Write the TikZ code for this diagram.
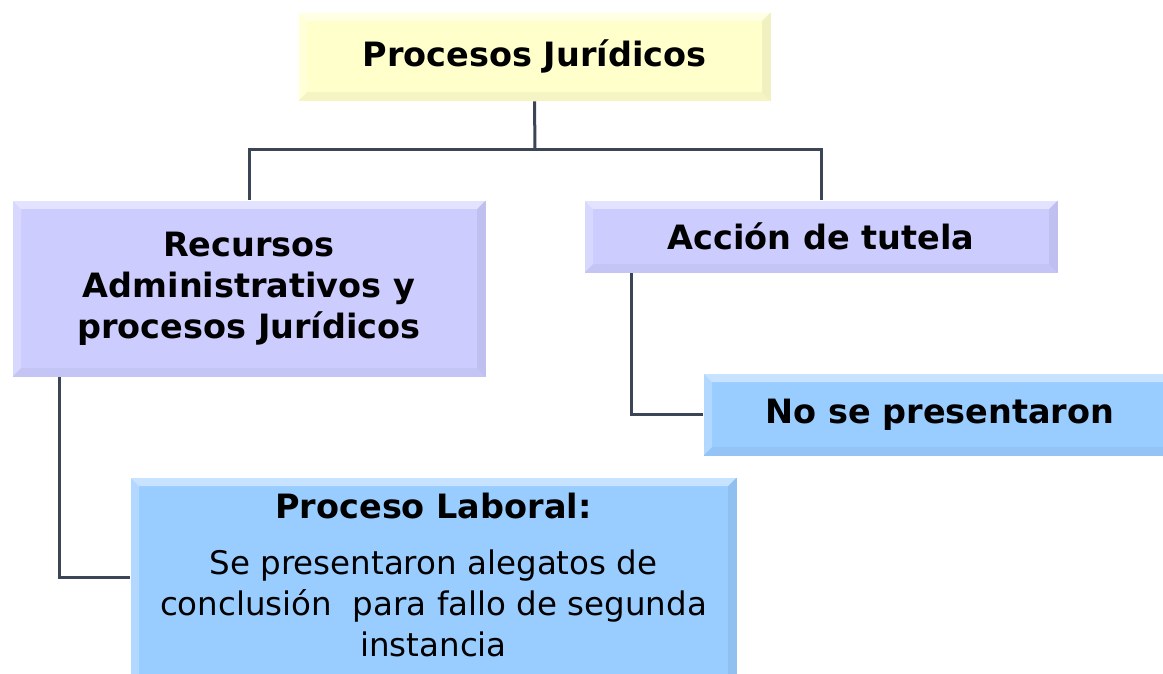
\documentclass[tikz,border=0pt]{standalone}
\usepackage{fontspec}
\setmainfont{DejaVu Sans}
\usetikzlibrary{calc}
\definecolor{yel}{HTML}{FFFFCC}
\definecolor{lav}{HTML}{CCCCFF}
\definecolor{sky}{HTML}{99CCFF}
\definecolor{lin}{HTML}{3B4556}
\newcommand\regtext{\fontsize{32.5}{41}\selectfont\mdseries}
\tikzset{
  bevel/.style={path picture={
    \def\b{9pt}
    \fill[white,opacity=0.45] (path picture bounding box.north west) -- (path picture bounding box.north east) -- ([xshift=-\b,yshift=-\b]path picture bounding box.north east) -- ([xshift=\b,yshift=-\b]path picture bounding box.north west) -- cycle;
    \fill[white,opacity=0.25] (path picture bounding box.north west) -- ([xshift=\b,yshift=-\b]path picture bounding box.north west) -- ([xshift=\b,yshift=\b]path picture bounding box.south west) -- (path picture bounding box.south west) -- cycle;
    \fill[black,opacity=0.06] (path picture bounding box.north east) -- ([xshift=-\b,yshift=-\b]path picture bounding box.north east) -- ([xshift=-\b,yshift=\b]path picture bounding box.south east) -- (path picture bounding box.south east) -- cycle;
    \fill[black,opacity=0.04] (path picture bounding box.south west) -- ([xshift=\b,yshift=\b]path picture bounding box.south west) -- ([xshift=-\b,yshift=\b]path picture bounding box.south east) -- (path picture bounding box.south east) -- cycle;
  }},
  box/.style={rectangle, bevel, draw=white, line width=0.8pt, align=center, inner sep=0pt,
    font=\fontsize{33.5}{41}\selectfont\bfseries, text=black},
  conn/.style={draw=lin, line width=3pt}
}
\begin{document}
\begin{tikzpicture}[x=1pt,y=-1pt]
\useasboundingbox (0,0) rectangle (1163,674);
\fill[white] (0,0) rectangle (1163,674);
\node[box, fill=yel, minimum width=473pt, minimum height=89pt] (top) at (534.5,56.5) {Procesos Jurídicos};
\node[box, fill=lav, minimum width=474pt, minimum height=177pt] (left) at (249,288.5) {Recursos\\Administrativos y\\procesos Jurídicos};
\node[box, fill=lav, minimum width=474pt, minimum height=73pt] (right) at (821,236.5) {Acción de tutela};
\node[box, fill=sky, minimum width=474pt, minimum height=83pt] (nose) at (940,414.5) {No se presentaron};
\node[box, fill=sky, minimum width=607pt, minimum height=209pt] (pl) at (433.5,581.5)
  {Proceso Laboral:\\[15pt]\regtext Se presentaron alegatos de\\\regtext conclusión~ para fallo de segunda\\\regtext instancia\rule[-13pt]{0pt}{0pt}};
\coordinate (j) at (535,150);
\draw[conn] (top.south) -- (j);
\draw[conn] (left.north) |- (j) -| (right.north);
\draw[conn] ([xshift=48pt]right.south west) |- (nose.west);
\draw[conn] ([xshift=48pt]left.south west) |- ([yshift=4.5pt]pl.west);
\end{tikzpicture}
\end{document}
